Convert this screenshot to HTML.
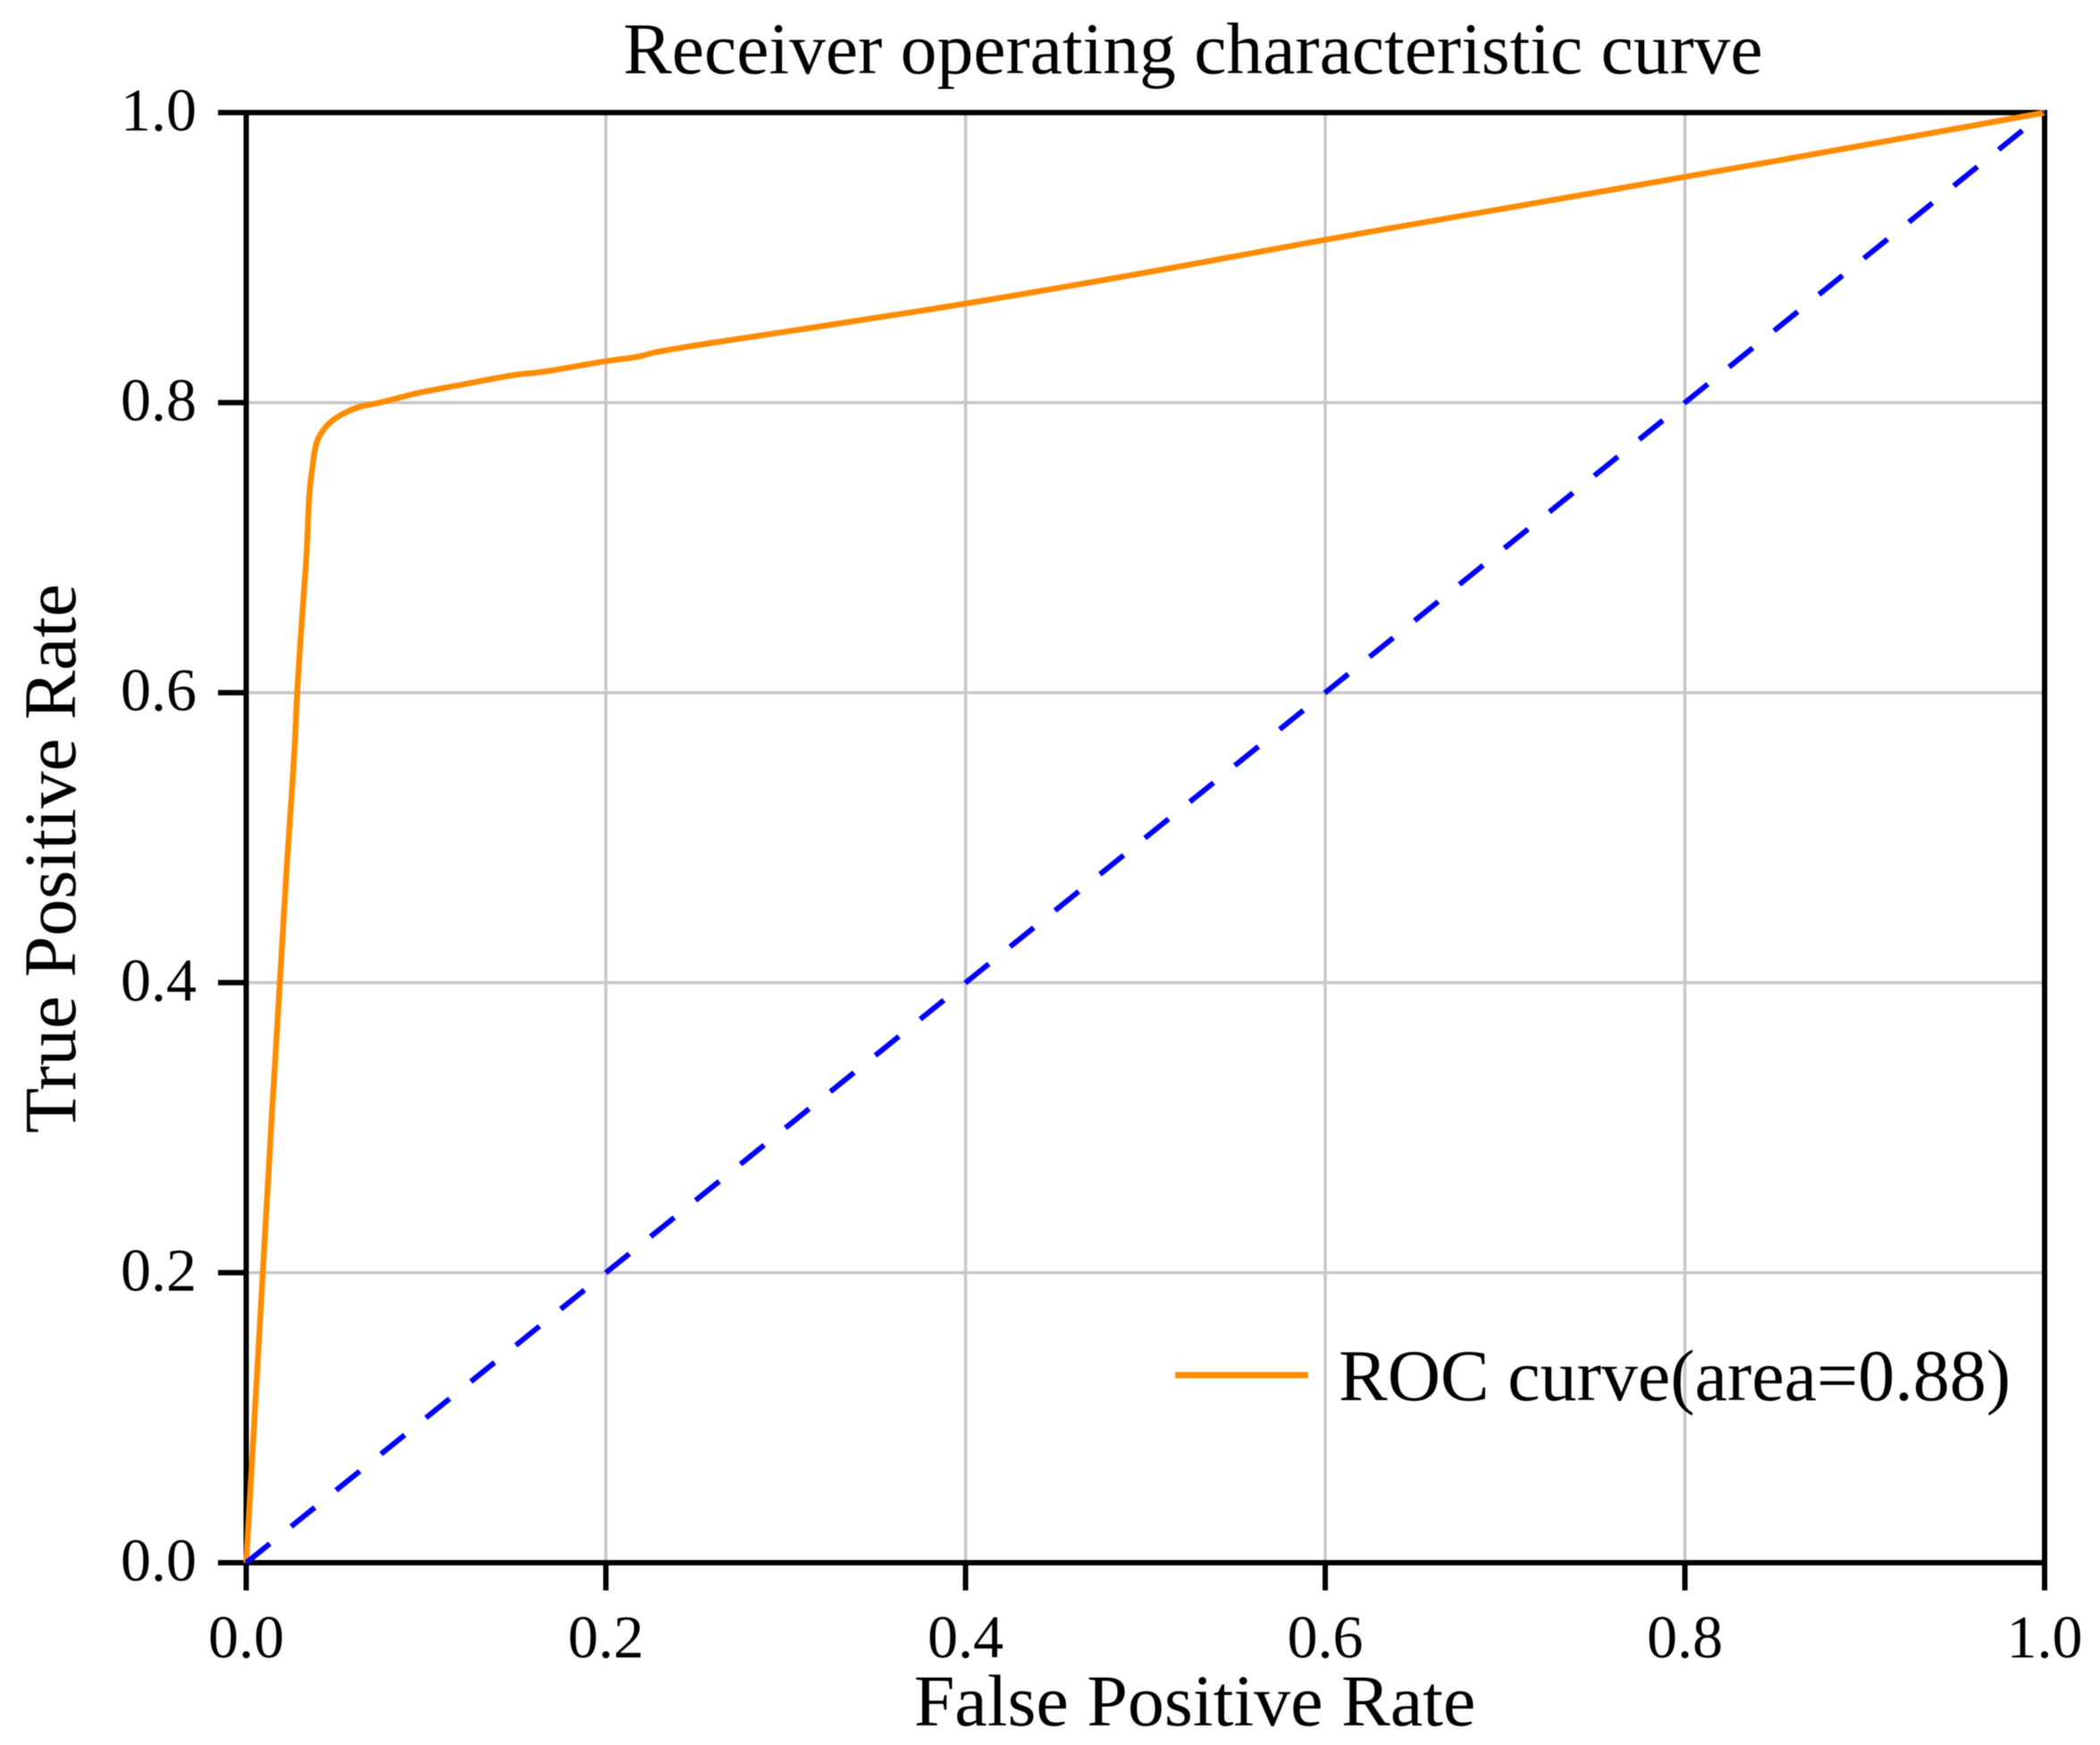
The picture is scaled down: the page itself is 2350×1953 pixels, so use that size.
<!DOCTYPE html>
<html lang="en">
<head>
<meta charset="utf-8">
<title>Receiver operating characteristic curve</title>
<style>
html,body{margin:0;padding:0;background:#fff;}
svg{display:block;filter:blur(0.6px);}
text{font-family:"Liberation Serif","DejaVu Serif",serif;fill:#000;}
</style>
</head>
<body>
<svg id="chart" xmlns="http://www.w3.org/2000/svg" width="2350" height="1953" viewBox="0 0 2350 1953">
  <rect x="0" y="0" width="2350" height="1953" fill="#ffffff"/>
  <g id="grid"></g>
  <g id="axes"></g>
  <g id="series"></g>
  <text x="1335" y="82" font-size="81.6" text-anchor="middle">Receiver operating characteristic curve</text>
  <text x="1337" y="1931" font-size="82" text-anchor="middle">False Positive Rate</text>
  <text x="0" y="0" font-size="83" text-anchor="middle" transform="translate(84 961) rotate(-90)">True Positive Rate</text>
  <g>
    <line x1="1315" y1="1539" x2="1464" y2="1539" stroke="#ff8c00" stroke-width="7"/>
    <text x="1498" y="1567" font-size="82">ROC curve(area=0.88)</text>
  </g>
</svg>
<script>
var xTicks = [0, 0.2, 0.4, 0.6, 0.8, 1];
var yTicks = [0, 0.2, 0.4, 0.6, 0.8, 1];
var xTickLabels = ['0.0', '0.2', '0.4', '0.6', '0.8', '1.0'];
var yTickLabels = ['0.0', '0.2', '0.4', '0.6', '0.8', '1.0'];
var rocFpr = [0, 0.0089, 0.0188, 0.0221, 0.0255, 0.0274, 0.0282, 0.032, 0.0337, 0.0349, 0.037, 0.0387, 0.0436, 0.0503, 0.0619, 0.0751, 0.095, 0.1115, 0.1513, 0.1629, 0.1994, 0.2192, 0.2273, 0.3004, 0.328, 0.4, 0.5005, 0.6, 0.6979, 0.8, 0.9, 1];
var rocTpr = [0, 0.2, 0.4, 0.4726, 0.533, 0.5724, 0.5995, 0.669, 0.6956, 0.7369, 0.7573, 0.7727, 0.783, 0.7902, 0.7972, 0.8, 0.8068, 0.8104, 0.8199, 0.8205, 0.8287, 0.8316, 0.8352, 0.849, 0.8542, 0.8681, 0.8895, 0.9125, 0.9335, 0.9556, 0.9775, 1];
var chanceFpr = [0, 1];
var chanceTpr = [0, 1];

var NS = 'http://www.w3.org/2000/svg';
var plotLeft = 275.5, plotRight = 2288, plotTop = 126, plotBottom = 1749;
function xScale(v) { return plotLeft + v * (plotRight - plotLeft); }
function yScale(v) { return plotBottom - v * (plotBottom - plotTop); }
function make(tag, attrs, parent) {
  var el = document.createElementNS(NS, tag);
  for (var k in attrs) { el.setAttribute(k, attrs[k]); }
  parent.appendChild(el);
  return el;
}
function linePath(xs, ys) {
  var d = '';
  for (var i = 0; i < xs.length; i++) {
    d += (i ? 'L' : 'M') + xScale(xs[i]).toFixed(2) + ' ' + yScale(ys[i]).toFixed(2);
  }
  return d;
}
function smoothPath(xs, ys) {
  var n = xs.length;
  var d = 'M' + xScale(xs[0]).toFixed(2) + ' ' + yScale(ys[0]).toFixed(2);
  for (var i = 1; i < n - 1; i++) {
    var px = xScale(xs[i]), py = yScale(ys[i]);
    var mx = (px + xScale(xs[i + 1])) / 2, my = (py + yScale(ys[i + 1])) / 2;
    d += 'Q' + px.toFixed(2) + ' ' + py.toFixed(2) + ' ' + mx.toFixed(2) + ' ' + my.toFixed(2);
  }
  d += 'L' + xScale(xs[n - 1]).toFixed(2) + ' ' + yScale(ys[n - 1]).toFixed(2);
  return d;
}
var gridG = document.getElementById('grid');
var axesG = document.getElementById('axes');
var seriesG = document.getElementById('series');

xTicks.forEach(function (t, i) {
  var x = xScale(t);
  if (t > 0 && t < 1) {
    var g = make('line', {x1: x, y1: plotTop, x2: x, y2: plotBottom, stroke: '#c8c8c8', 'stroke-width': 3.5}, gridG);
    
    
  }
  var m = make('line', {x1: x, y1: plotBottom, x2: x, y2: 1780, stroke: '#000', 'stroke-width': 6}, axesG);
  
  
  var l = make('text', {x: x, y: 1855, 'font-size': 68, 'text-anchor': 'middle'}, axesG);
  l.textContent = xTickLabels[i];
  
  
});

yTicks.forEach(function (t, i) {
  var y = yScale(t);
  if (t > 0 && t < 1) {
    var g = make('line', {x1: plotLeft, y1: y, x2: plotRight, y2: y, stroke: '#c8c8c8', 'stroke-width': 3.5}, gridG);
    
    
  }
  var m = make('line', {x1: 244, y1: y, x2: plotLeft, y2: y, stroke: '#000', 'stroke-width': 6}, axesG);
  
  
  var l = make('text', {x: 220, y: y + 20, 'font-size': 68, 'text-anchor': 'end'}, axesG);
  l.textContent = yTickLabels[i];
  
  
});

var spine = make('rect', {x: plotLeft, y: plotTop, width: plotRight - plotLeft, height: plotBottom - plotTop, fill: 'none', stroke: '#000', 'stroke-width': 6}, axesG);



var roc = make('path', {d: smoothPath(rocFpr, rocTpr), fill: 'none', stroke: '#ff8c00', 'stroke-width': 6.5, 'stroke-linejoin': 'round'}, seriesG);



var chance = make('path', {d: linePath(chanceFpr, chanceTpr), fill: 'none', stroke: '#0000ff', 'stroke-width': 6, 'stroke-dasharray': '34 30.6'}, seriesG);


</script>
</body>
</html>
